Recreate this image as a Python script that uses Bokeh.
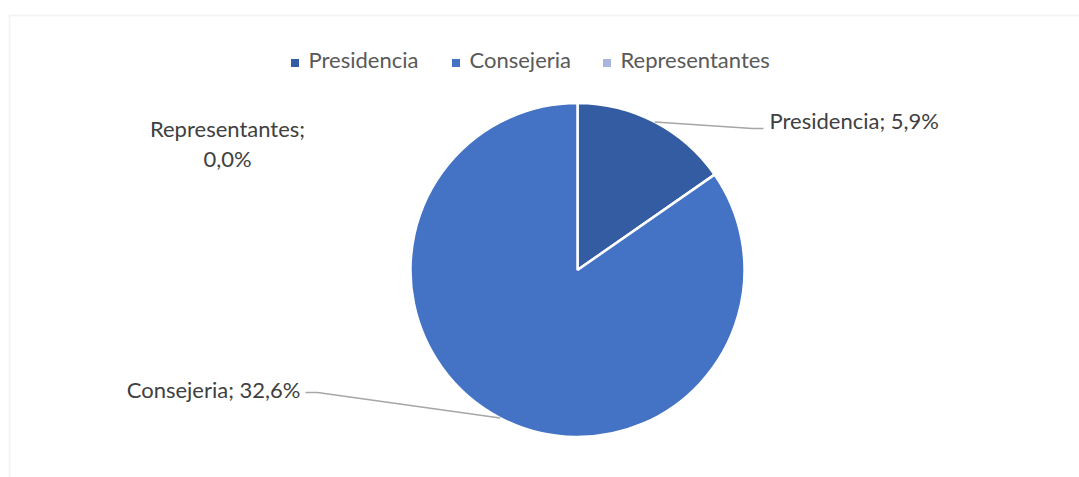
import math
from bokeh.plotting import figure
from bokeh.models import Range1d, ColumnDataSource, BoxAnnotation
from bokeh.core.properties import value
from bokeh.embed import file_html
from bokeh.resources import INLINE

# ---- data ----
categories = ["Presidencia", "Consejeria", "Representantes"]
values = [5.9, 32.6, 0.0]
label_texts = ["Presidencia; 5,9%", "Consejeria; 32,6%", "Representantes;\n0,0%"]
colors = ["#345CA2", "#4472C4", "#A7B6DD"]

W, H = 1079, 477
FONT = "Lato"
FS = "22px"

p = figure(width=W, height=H, output_backend="svg", toolbar_location=None,
           x_range=Range1d(0, W), y_range=Range1d(0, H), min_border=0,
           background_fill_color="white", border_fill_color="white")
p.axis.visible = False
p.grid.visible = False
p.outline_line_color = None

# chart area frame (top & left edges visible)
p.add_layout(BoxAnnotation(left=9, right=W + 50, top=H - 15, bottom=-50,
                           fill_alpha=0, line_color="#D9D9D9", line_width=2))

# ---- pie ----
cx, cy, R = 577, H - 269.5, 167
total = sum(values)
starts, ends, mids = [], [], []
cum = 0.0
for v in values:
    a0 = math.pi / 2 - 2 * math.pi * cum / total
    cum += v
    a1 = math.pi / 2 - 2 * math.pi * cum / total
    starts.append(a0)
    ends.append(a1)
    mids.append((a0 + a1) / 2)

idx = [i for i, v in enumerate(values) if v > 0]
src = ColumnDataSource(dict(
    x=[cx] * len(idx), y=[cy] * len(idx),
    s=[starts[i] for i in idx], e=[ends[i] for i in idx],
    c=[colors[i] for i in idx]))
p.wedge(x="x", y="y", radius=R, start_angle="s", end_angle="e",
        direction="clock", fill_color="c", line_color="white", line_width=2.5,
        source=src)

# ---- leader lines (layout offsets) ----
lead_color = "#A6A6A6"
# Presidencia
m = mids[0]
sx, sy = cx + R * math.cos(m), cy + R * math.sin(m)
p.line([sx, 752, 763], [sy, H - 128, H - 128], line_color=lead_color, line_width=1.5)
# Consejeria
m = mids[1]
sx, sy = cx + R * math.cos(m), cy + R * math.sin(m)
p.line([sx, 317, 305], [sy, H - 392, H - 392], line_color=lead_color, line_width=1.5)

# ---- data labels ----
p.text(x=[769], y=[H - 120], text=[label_texts[0]], text_align="left",
       text_baseline="middle", text_font=value(FONT), text_font_size=FS,
       text_color="#404040")
p.text(x=[300], y=[H - 389], text=[label_texts[1]], text_align="right",
       text_baseline="middle", text_font=value(FONT), text_font_size=FS,
       text_color="#404040")
p.text(x=[227], y=[H - 143], text=[label_texts[2]], text_align="center",
       text_baseline="middle", text_font=value(FONT), text_font_size=FS,
       text_color="#404040", text_line_height=1.11)

# ---- legend ----
leg_sq_x = [294.5, 455.5, 606.5]
leg_tx_x = [308, 469, 620]
p.scatter(x=leg_sq_x, y=[H - 62.5] * 3, marker="square", size=8,
          fill_color=colors, line_color=None)
p.text(x=leg_tx_x, y=[H - 59] * 3, text=categories, text_align="left",
       text_baseline="middle", text_font=value(FONT), text_font_size=FS,
       text_color="#595959")

open("out.html", "w").write(file_html(p, INLINE))
